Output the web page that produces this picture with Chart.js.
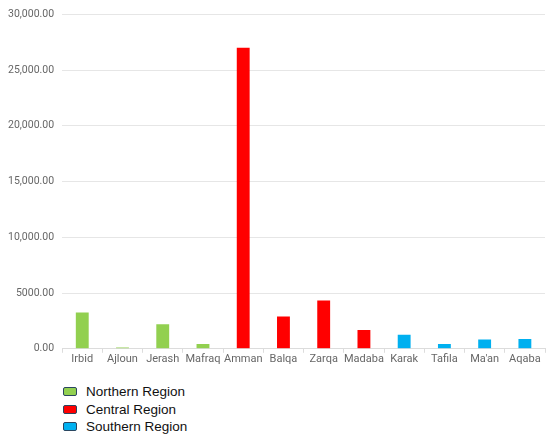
<!DOCTYPE html>
<html>
<head>
<meta charset="utf-8">
<script src="https://cdn.jsdelivr.net/npm/chart.js@4/dist/chart.umd.min.js"></script>
<style>
    body { margin: 0; background: #fff; }
    #wrap { position: relative; width: 550px; height: 438px; }
    #chartBox { position: absolute; left: 0; top: 0; width: 550px; height: 366px; }
    #legend { position: absolute; left: 63px; top: 383px; font-family: "Liberation Sans", Arial, sans-serif; font-size: 13.5px; color: #111; }
    .item { display: flex; align-items: center; height: 17.5px; }
    .swatch { width: 12px; height: 7px; border: 1.5px solid #2b4660; border-radius: 2px; margin-right: 9px; }
</style>
</head>
<body>
<div id="wrap">
    <div id="chartBox"><canvas id="barChart"></canvas></div>
    <div id="legend"></div>
</div>
<script>
// Governorates along the x axis
const categories = ['Irbid', 'Ajloun', 'Jerash', 'Mafraq', 'Amman', 'Balqa', 'Zarqa', 'Madaba', 'Karak', 'Tafila', "Ma'an", 'Aqaba'];
const values = [3250, 110, 2200, 420, 27000, 2900, 4330, 1680, 1250, 420, 830, 880];
// region index for every governorate
const regionOf = [0, 0, 0, 0, 1, 1, 1, 1, 2, 2, 2, 2];
const regions = ['Northern Region', 'Central Region', 'Southern Region'];
const regionColors = ['#92d050', '#ff0000', '#00b0f0'];
const yTicks = [0, 5000, 10000, 15000, 20000, 25000, 30000];

function formatTick(v) {
    if (v >= 10000) {
        return v.toLocaleString('en-US', { minimumFractionDigits: 2, maximumFractionDigits: 2 });
    }
    return v.toFixed(2);
}

const datasets = regions.map((name, r) => ({
    label: name,
    data: values.map((v, i) => regionOf[i] === r ? v : null),
    backgroundColor: regionColors[r],
    grouped: false,
    categoryPercentage: 1,
    barPercentage: 0.32
}));

const ctx = document.getElementById('barChart').getContext('2d');
new Chart(ctx, {
    type: 'bar',
    data: { labels: categories, datasets: datasets },
    options: {
        responsive: true,
        maintainAspectRatio: false,
        animation: false,
        layout: { padding: { top: 3, right: 5, left: 0, bottom: 0 } },
        plugins: {
            legend: { display: false },
            tooltip: { enabled: false }
        },
        scales: {
            x: {
                grid: { display: true, drawOnChartArea: false, drawTicks: true, tickLength: 4, color: '#dcdcdc', offset: true },
                border: { color: '#dcdcdc' },
                ticks: { color: '#666', font: { family: 'Roboto', size: 11 }, padding: 0, maxRotation: 0, autoSkip: false }
            },
            y: {
                min: 0,
                max: 30000,
                afterBuildTicks: (axis) => { axis.ticks = yTicks.map(v => ({ value: v })); },
                grid: { color: '#e6e6e6', drawTicks: false },
                border: { display: false },
                ticks: { color: '#666', font: { family: 'Roboto', size: 10.5 }, padding: 8, callback: formatTick }
            }
        }
    }
});

// legend stacked under the chart
const legend = document.getElementById('legend');
regions.forEach((name, r) => {
    const item = document.createElement('div');
    item.className = 'item';
    item.innerHTML = `<span class="swatch" style="background:${regionColors[r]}"></span><span>${name}</span>`;
    legend.appendChild(item);
});
</script>
</body>
</html>
